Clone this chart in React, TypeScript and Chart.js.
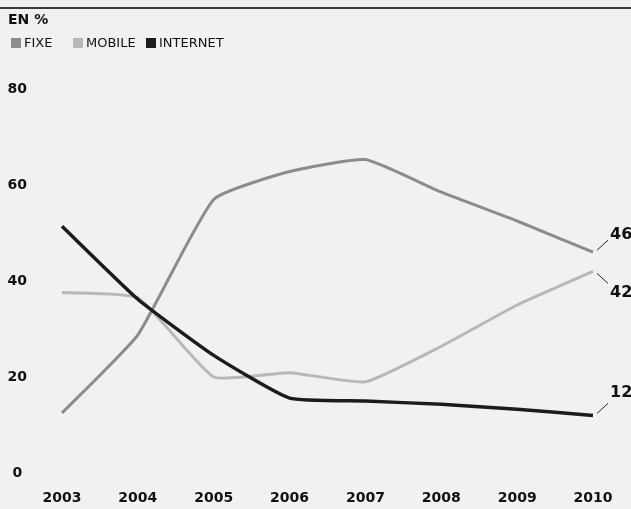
import React, { useEffect, useRef } from "react";
import { Chart, registerables } from "chart.js";

Chart.register(...registerables);

// ---- data ----
const years = ["2003", "2004", "2005", "2006", "2007", "2008", "2009", "2010"];
const fixe = [12.5, 28.8, 57, 62.8, 65.3, 58.5, 52.5, 46];
const mobile = [37.6, 36.5, 20, 20.9, 19, 26.4, 35, 42];
const internet = [51.4, 36.2, 24.5, 15.6, 15, 14.3, 13.3, 12];
const seriesNames = ["FIXE", "MOBILE", "INTERNET"];
const endLabels = ["46", "42", "12"];
const unitLabel = "EN %";
const yMin = 0;
const yMax = 80;
const yStep = 20;

// ---- styles ----
const W = 631;
const H = 509;
const BG = "#f1f1f1";
const FONT = "'DejaVu Sans', sans-serif";
const C_FIXE = "#8c8c8c";
const C_MOBILE = "#b8b8b8";
const C_INTERNET = "#1c1c1c";
const TEXT = "#111";

const decorPlugin = {
  id: "decor",
  beforeDraw(chart: any) {
    const ctx = chart.ctx;
    ctx.save();
    ctx.fillStyle = BG;
    ctx.fillRect(0, 0, chart.width, chart.height);
    ctx.restore();
  },
  afterDraw(chart: any) {
    const ctx = chart.ctx;
    ctx.save();
    // top rule
    ctx.strokeStyle = "#3a3a3a";
    ctx.lineWidth = 2;
    ctx.beginPath();
    ctx.moveTo(0, 8);
    ctx.lineTo(W, 8);
    ctx.stroke();

    // unit label
    ctx.fillStyle = TEXT;
    ctx.textBaseline = "middle";
    ctx.textAlign = "left";
    ctx.font = `bold 14px ${FONT}`;
    ctx.fillText(unitLabel, 8, 20);

    // legend
    const colors = [C_FIXE, C_MOBILE, C_INTERNET];
    const boxX = [11, 73, 146];
    ctx.font = `13px ${FONT}`;
    seriesNames.forEach((name, i) => {
      ctx.fillStyle = colors[i];
      ctx.fillRect(boxX[i], 38, 10, 10);
      ctx.fillStyle = TEXT;
      ctx.fillText(name, boxX[i] + 13, 43.5);
    });

    // end labels with leader lines
    const xs = chart.scales.x;
    const ys = chart.scales.y;
    const last = years.length - 1;
    const x = xs.getPixelForValue(last);
    const ends = [fixe[last], mobile[last], internet[last]];
    const offsets = [
      { l1: [4, -2], l2: [15, -12], ty: -17 },
      { l1: [4, 2], l2: [15, 12], ty: 21 },
      { l1: [4, -2], l2: [15, -12], ty: -23 },
    ];
    ctx.strokeStyle = "#222";
    ctx.lineWidth = 1;
    ctx.font = `bold 16px ${FONT}`;
    ctx.fillStyle = TEXT;
    ends.forEach((v, i) => {
      const y = ys.getPixelForValue(v);
      const o = offsets[i];
      ctx.beginPath();
      ctx.moveTo(x + o.l1[0], y + o.l1[1]);
      ctx.lineTo(x + o.l2[0], y + o.l2[1]);
      ctx.stroke();
      ctx.fillText(endLabels[i], x + 17, y + o.ty);
    });
    ctx.restore();
  },
};

export default function App() {
  const ref = useRef<HTMLCanvasElement | null>(null);

  useEffect(() => {
    document.body.style.overflow = "hidden";
    const canvas = ref.current;
    if (!canvas) return;
    const chart = new Chart(canvas, {
      type: "line",
      data: {
        labels: years,
        datasets: [
          {
            label: seriesNames[2],
            data: internet,
            borderColor: C_INTERNET,
            borderWidth: 3.5,
            pointRadius: 0,
            tension: 0.15,
          },
          {
            label: seriesNames[0],
            data: fixe,
            borderColor: C_FIXE,
            borderWidth: 3,
            pointRadius: 0,
            tension: 0.15,
          },
          {
            label: seriesNames[1],
            data: mobile,
            borderColor: C_MOBILE,
            borderWidth: 3,
            pointRadius: 0,
            tension: 0.15,
          },
        ],
      },
      options: {
        responsive: false,
        animation: false,
        devicePixelRatio: 1,
        layout: { padding: { left: 0, right: 38, top: 89, bottom: 0 } },
        plugins: {
          legend: { display: false },
          tooltip: { enabled: false },
          title: { display: false },
        },
        scales: {
          x: {
            type: "category",
            offset: false,
            grid: { display: false, drawTicks: false },
            border: { display: false },
            ticks: {
              color: TEXT,
              font: { family: FONT, size: 14, weight: "bold" },
              padding: 17,
              maxRotation: 0,
              autoSkip: false,
            },
            afterFit: (s: any) => {
              s.height = 36;
            },
          },
          y: {
            min: yMin,
            max: yMax,
            grid: { display: false, drawTicks: true, tickLength: 35 },
            border: { display: false },
            ticks: {
              stepSize: yStep,
              color: TEXT,
              font: { family: FONT, size: 14, weight: "bold" },
              crossAlign: "center",
              padding: 0,
            },
            afterFit: (s: any) => {
              s.width = 62;
            },
          },
        },
      },
      plugins: [decorPlugin],
    });
    return () => chart.destroy();
  }, []);

  return (
    <div style={{ position: "fixed", left: 0, top: 0, width: W, height: H, background: BG }}>
      <canvas ref={ref} width={W} height={H} style={{ display: "block", width: W, height: H }} />
    </div>
  );
}
